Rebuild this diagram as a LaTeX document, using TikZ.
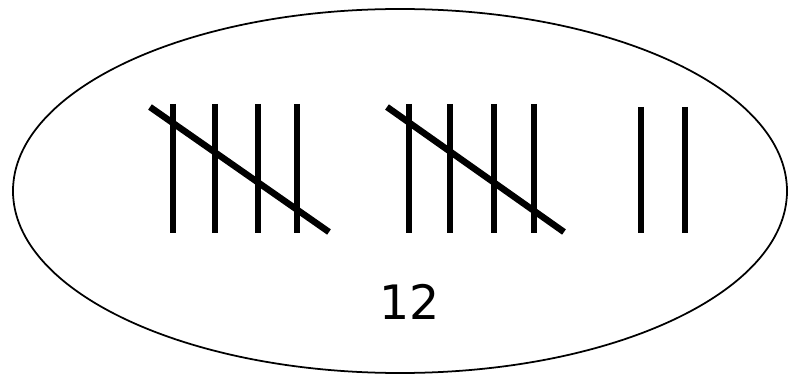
\documentclass[tikz,border=0pt]{standalone}
\usepackage{fontspec}
\setmainfont{DejaVu Sans}
\begin{document}
\begin{tikzpicture}[x=0.02cm,y=-0.02cm,
      rim/.style={draw,line width=1pt},
      tally/.style={line width=3.7pt},
      every node/.style={font=\fontsize{27}{30}\selectfont}]
    \useasboundingbox (0,0) rectangle (789,375);
    \draw[rim] (400,191) ellipse [x radius=387, y radius=182];
    % two bundles of five, then two loose marks
    \foreach \x in {173,215,258,297,409,450,494,534}
      \draw[tally] (\x,104) -- (\x,233);
    \draw[tally] (150,107) -- (329,232);
    \draw[tally] (387,107) -- (564,232);
    \draw[tally] (641,107) -- (641,233);
    \draw[tally] (685,107) -- (685,233);
    \node (total) at (410,302) {12};
  \end{tikzpicture}
\end{document}
